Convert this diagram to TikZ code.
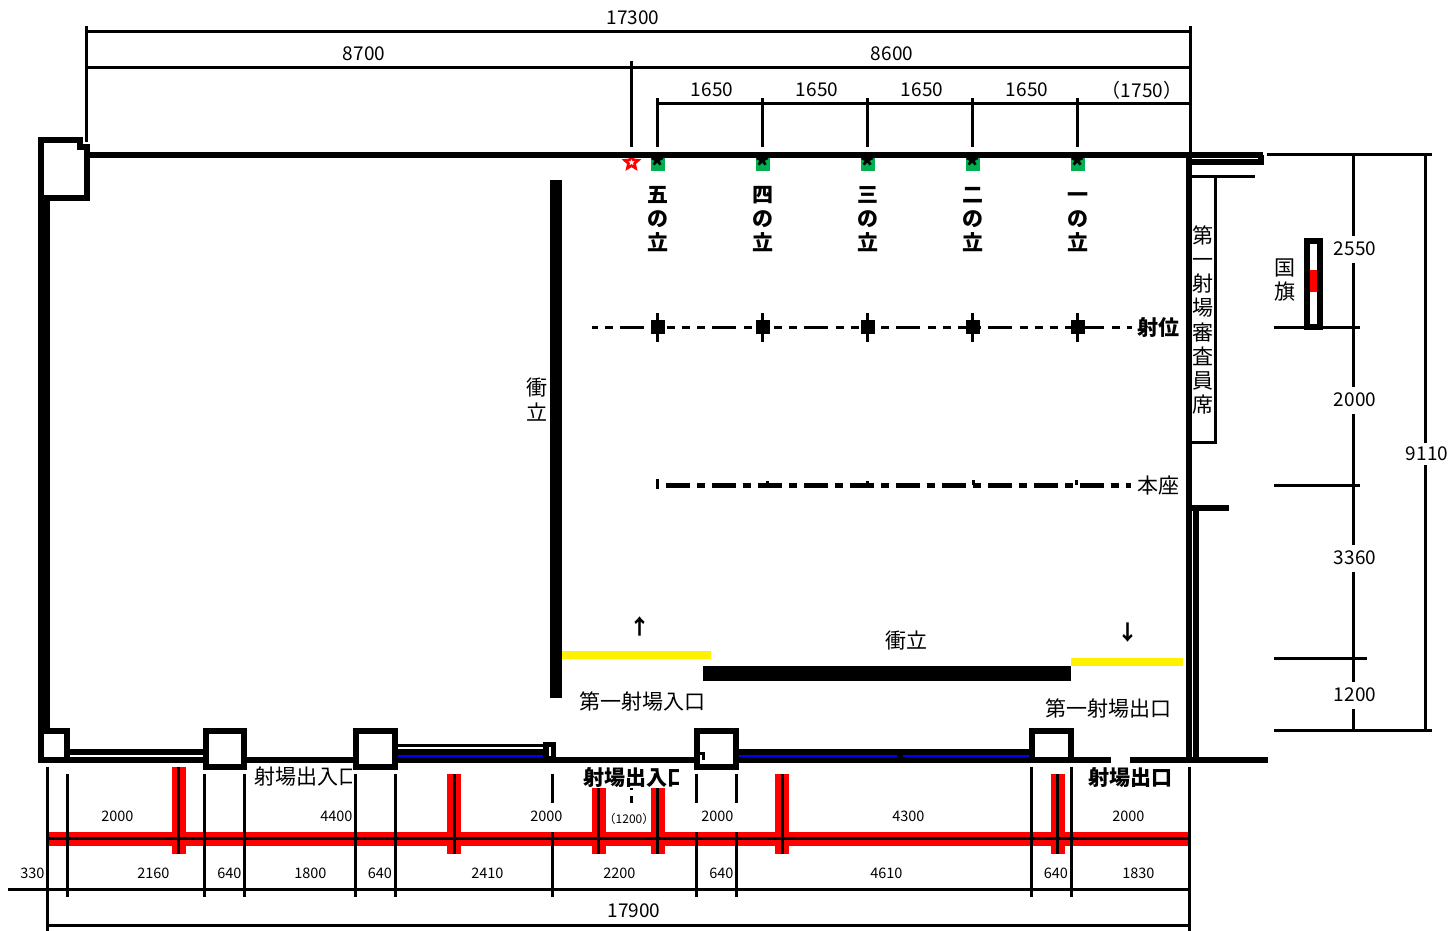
\documentclass[tikz,border=0pt]{standalone}
\usepackage{fontspec}
\setmainfont{Noto Sans CJK JP}
\usetikzlibrary{shapes.geometric}
\definecolor{matgreen}{RGB}{0,176,80}
\tikzset{
  wall/.style = {line width=6pt},
  thinwall/.style = {line width=3pt},
  dimline/.style = {line width=3pt},
  redband/.style = {red, line width=14pt},
  columnbox/.style = {draw, line width=6pt, fill=white},
  biglabel/.style = {inner sep=0pt, align=center, yshift=-1pt, font=\fontsize{21}{24.2}\selectfont},
  boldlabel/.style = {inner sep=0pt, align=center, yshift=-1pt, font=\fontsize{21}{24.2}\selectfont\bfseries},
  dimlabel/.style = {inner sep=0pt, xshift=1pt, yshift=-1pt, font=\fontsize{19}{21}\selectfont},
  gaplabel/.style = {dimlabel, fill=white, minimum height=27pt, minimum width=46pt},
  smalllabel/.style = {inner sep=0pt, xshift=0.4pt, yshift=-0.5pt, font=\fontsize{14.5}{16}\selectfont},
  tinylabel/.style = {inner sep=0pt, font=\fontsize{12}{13}\selectfont},
  matbox/.style = {fill=matgreen, minimum size=14pt, inner sep=0pt, font=\fontsize{27}{27}\selectfont\bfseries},
  shooter/.style = {fill=black, minimum size=14pt, inner sep=0pt},
  screenbar/.style = {fill=black},
  yellowbar/.style = {fill=yellow}
}

\begin{document}
\begin{tikzpicture}[x=1pt, y=-1pt]

  \useasboundingbox (0,0) rectangle (1452,931);

  % Red bands under the bottom dimensions
  \draw[redband] (48,838.5) -- (1189,838.5);
  \draw[redband] (179,767) -- (179,854);
  \draw[redband] (454,774) -- (454,854);
  \draw[redband] (599,788) -- (599,854);
  \draw[redband] (658,788) -- (658,854);
  \draw[redband] (782,774) -- (782,854);
  \draw[redband] (1058,774) -- (1058,854);
  \draw[dimline] (48,838.5) -- (1189,838.5);
  \draw[dimline] (178.5,767) -- (178.5,854);
  \draw[dimline] (454,774) -- (454,854);
  \draw[dimline] (598.5,788) -- (598.5,854);
  \draw[dimline] (657.5,788) -- (657.5,854);
  \draw[dimline] (782,774) -- (782,854);
  \draw[dimline] (1057.5,774) -- (1057.5,854);

  % Top dimensions
  \draw[dimline] (87,32) -- (1190,32);
  \draw[dimline] (87,68) -- (1190,68);
  \draw[dimline] (657,104) -- (1190,104);
  \draw[dimline] (86.5,26) -- (86.5,142);
  \draw[dimline] (1190,26) -- (1190,155);
  \draw[dimline] (631.5,61) -- (631.5,147);
  \draw[dimline] (657.5,98) -- (657.5,147);
  \draw[dimline] (762.5,98) -- (762.5,147);
  \draw[dimline] (867.5,98) -- (867.5,147);
  \draw[dimline] (972.5,98) -- (972.5,147);
  \draw[dimline] (1077.5,98) -- (1077.5,147);

  % Bottom dimensions
  \draw[dimline] (8,889) -- (1189,889);
  \draw[dimline] (47,925) -- (1189,925);
  \draw[dimline] (47.5,767) -- (47.5,931);
  \draw[dimline] (67.5,774) -- (67.5,897);
  \draw[dimline] (204.5,774) -- (204.5,897);
  \draw[dimline] (244.5,774) -- (244.5,897);
  \draw[dimline] (355.5,774) -- (355.5,897);
  \draw[dimline] (395.5,774) -- (395.5,897);
  \draw[dimline] (552,774) -- (552,803);
  \draw[dimline] (552,832) -- (552,897);
  \draw[dimline] (631.5,796) -- (631.5,803);
  \draw[dimline] (631.5,788) -- (631.5,790);
  \draw[dimline] (696.5,774) -- (696.5,803);
  \draw[dimline] (696.5,832) -- (696.5,897);
  \draw[dimline] (736.5,774) -- (736.5,803);
  \draw[dimline] (736.5,832) -- (736.5,897);
  \draw[dimline] (1031.5,767) -- (1031.5,897);
  \draw[dimline] (1071.5,767) -- (1071.5,897);
  \draw[dimline] (1189.5,767) -- (1189.5,931);

  % Right dimensions
  \draw[dimline] (1267,154.5) -- (1432,154.5);
  \draw[dimline] (1274,327) -- (1360,327);
  \draw[dimline] (1274,485) -- (1360,485);
  \draw[dimline] (1274,658.5) -- (1367,658.5);
  \draw[dimline] (1274,730) -- (1432,730);
  \draw[dimline] (1353.5,155) -- (1353.5,730);
  \draw[dimline] (1425.5,155) -- (1425.5,730);

  % Mats and the star
  \node[star, star points=5, star point ratio=2.2, draw=red, fill=white, line width=2.6pt, minimum size=14pt, inner sep=0pt] (starmark) at (631.5,162.5) {};
  \node[matbox] (mat5) at (658,164) {\smash{\raisebox{-13pt}{*}}};
  \node[matbox] (mat4) at (763,164) {\smash{\raisebox{-13pt}{*}}};
  \node[matbox] (mat3) at (868,164) {\smash{\raisebox{-13pt}{*}}};
  \node[matbox] (mat2) at (973,164) {\smash{\raisebox{-13pt}{*}}};
  \node[matbox] (mat1) at (1078,164) {\smash{\raisebox{-13pt}{*}}};

  % Outer walls
  \draw[wall] (85,155) -- (1263,155);
  \draw[line width=12pt] (44,198) -- (44,730);
  \draw[wall] (1189,155) -- (1189,760);
  \draw[wall] (1196,508) -- (1196,760);
  \draw[wall] (1192,508) -- (1229,508);
  \draw[wall] (1189,162) -- (1261,162) -- (1261,155);
  \draw[wall] (43,760) -- (1111,760);
  \draw[wall] (1130,760) -- (1268,760);

  % Judges box
  \draw[thinwall] (1192,176.5) -- (1255,176.5);
  \draw[thinwall] (1215.5,176.5) -- (1215.5,442.5) -- (1192,442.5);

  % Windows in the bottom wall
  \draw[wall] (70,752) -- (203,752);
  \draw[thinwall] (398,745.5) -- (545,745.5);
  \draw[wall] (398,752) -- (545,752);
  \draw[wall] (739,752) -- (1029,752);
  \draw[blue, line width=2pt] (398,756) -- (545,756);
  \draw[blue, line width=2pt] (739,756) -- (897,756);
  \draw[blue, line width=2pt] (903,756) -- (1029,756);
  \fill (897,755) rectangle (903,757);
  \fill (543,742) rectangle (556,760);
  \fill[white] (548.5,747) rectangle (551,756);

  % Columns
  \draw[columnbox] (41,140) -- (80,140) -- (80,147) -- (87,147) -- (87,198) -- (41,198) -- cycle;
  \draw[columnbox] (41,731) rectangle (67,760);
  \draw[columnbox] (206,731) rectangle (244,767);
  \draw[columnbox] (356,731) rectangle (395,767);
  \draw[columnbox] (697,731) rectangle (736,767);
  \draw[columnbox] (1032,731) rectangle (1071,760);
  \draw[thinwall] (698,753) -- (703,753) -- (703,760);

  % Screens
  \fill[screenbar] (550,180) rectangle (562,698);
  \fill[screenbar] (703,666) rectangle (1071,681);
  \fill[yellowbar] (562,651) rectangle (711,659);
  \fill[yellowbar] (1071,658) rectangle (1183,666);

  % Shooting line
  \draw[line width=3pt, dash pattern=on 24pt off 8pt on 8pt off 7pt on 8pt off 7pt on 8pt off 7pt on 8pt off 7pt, dash phase=64pt] (592,327) -- (1132,327);
  \draw[dimline] (657.5,313) -- (657.5,342);
  \draw[dimline] (762.5,313) -- (762.5,342);
  \draw[dimline] (867.5,313) -- (867.5,342);
  \draw[dimline] (972.5,313) -- (972.5,342);
  \draw[dimline] (1077.5,313) -- (1077.5,342);
  \node[shooter] (shooter5) at (658,327) {};
  \node[shooter] (shooter4) at (763,327) {};
  \node[shooter] (shooter3) at (868,327) {};
  \node[shooter] (shooter2) at (973,327) {};
  \node[shooter] (shooter1) at (1078,327) {};

  % Seat line
  \draw[line width=5pt, dash pattern=on 24pt off 7pt on 8pt off 7pt] (666,485) -- (1131,485);
  \draw[dimline] (657.5,479) -- (657.5,489);
  \draw[dimline] (767,481) -- (767,485);
  \draw[dimline] (867,481) -- (867,485);
  \draw[dimline] (973,480) -- (973,485);
  \draw[dimline] (1076,480) -- (1076,485);

  % Flag
  \draw[wall] (1307,241) rectangle (1320,327);
  \fill[red] (1310,270) rectangle (1317,292);

  % Label the room
  \node[boldlabel] (stand5) at (658,220.5) {\strut 五\\の\\立\strut};
  \node[boldlabel] (stand4) at (763,220.5) {\strut 四\\の\\立\strut};
  \node[boldlabel] (stand3) at (868,220.5) {\strut 三\\の\\立\strut};
  \node[boldlabel] (stand2) at (973,220.5) {\strut 二\\の\\立\strut};
  \node[boldlabel] (stand1) at (1078,220.5) {\strut 一\\の\\立\strut};
  \node[boldlabel] (shai) at (1158,327) {射位};
  \node[biglabel] (honza) at (1158,485) {本座};
  \node[biglabel] (judges) at (1203,319) {第\\一\\射\\場\\審\\査\\員\\席};
  \node[biglabel] (flaglabel) at (1285,279) {国\\旗};
  \node[biglabel] (screenleft) at (537,398.5) {衝\\立};
  \node[biglabel] (screenbottom) at (906,640) {衝立};
  \node[boldlabel] (arrowin) at (640,625) {↑};
  \node[boldlabel] (arrowout) at (1128,632) {↓};
  \node[biglabel] (entrylabel) at (642,701) {第一射場入口};
  \node[biglabel] (exitlabel) at (1108,708) {第一射場出口};
  \begin{scope}
    \clip (250,760) rectangle (351,792);
    \node[biglabel] (doorleft) at (307,776) {射場出入口};
  \end{scope}
  \begin{scope}
    \clip (580,764) rectangle (678,792);
    \node[boldlabel] (doormiddle) at (636,777) {射場出入口};
  \end{scope}
  \node[boldlabel] (doorright) at (1130,777) {射場出口};

  % Label the top dimensions
  \node[dimlabel] (dimall) at (632,17) {17300};
  \node[dimlabel] (dimleft) at (363,53) {8700};
  \node[dimlabel] (dimright) at (891,53) {8600};
  \node[dimlabel] (stand5w) at (711,89) {1650};
  \node[dimlabel] (stand4w) at (816,89) {1650};
  \node[dimlabel] (stand3w) at (921,89) {1650};
  \node[dimlabel] (stand2w) at (1026,89) {1650};
  \node[dimlabel] (stand1w) at (1141,89) {（1750）};

  % Label the right dimensions
  \node[gaplabel] (dimflag) at (1354,248) {2550};
  \node[gaplabel] (dimshai) at (1354,399) {2000};
  \node[gaplabel] (dimhonza) at (1354,557) {3360};
  \node[gaplabel] (dimscreen) at (1354,694) {1200};
  \node[gaplabel, minimum height=22pt] (dimroom) at (1426,453) {9110};

  % Label the bottom dimensions
  \node[smalllabel] (gapa) at (117,816) {2000};
  \node[smalllabel] (gapb) at (336,816) {4400};
  \node[smalllabel] (gapc) at (546,816) {2000};
  \node[tinylabel] (gapd) at (629,819) {（1200）};
  \node[smalllabel] (gape) at (717,816) {2000};
  \node[smalllabel] (gapf) at (908,816) {4300};
  \node[smalllabel] (gapg) at (1128,816) {2000};
  \node[smalllabel] (bayb) at (32,873) {330};
  \node[smalllabel] (bayc) at (153,873) {2160};
  \node[smalllabel] (bayd) at (229,873) {640};
  \node[smalllabel] (baye) at (310,873) {1800};
  \node[smalllabel] (bayf) at (379.5,873) {640};
  \node[smalllabel] (bayg) at (487,873) {2410};
  \node[smalllabel] (bayh) at (619,873) {2200};
  \node[smalllabel] (bayi) at (721,873) {640};
  \node[smalllabel] (bayj) at (886,873) {4610};
  \node[smalllabel] (bayk) at (1055.5,873) {640};
  \node[smalllabel] (bayl) at (1138,873) {1830};
  \node[dimlabel] (dimbottom) at (633,910) {17900};

\end{tikzpicture}
\end{document}
